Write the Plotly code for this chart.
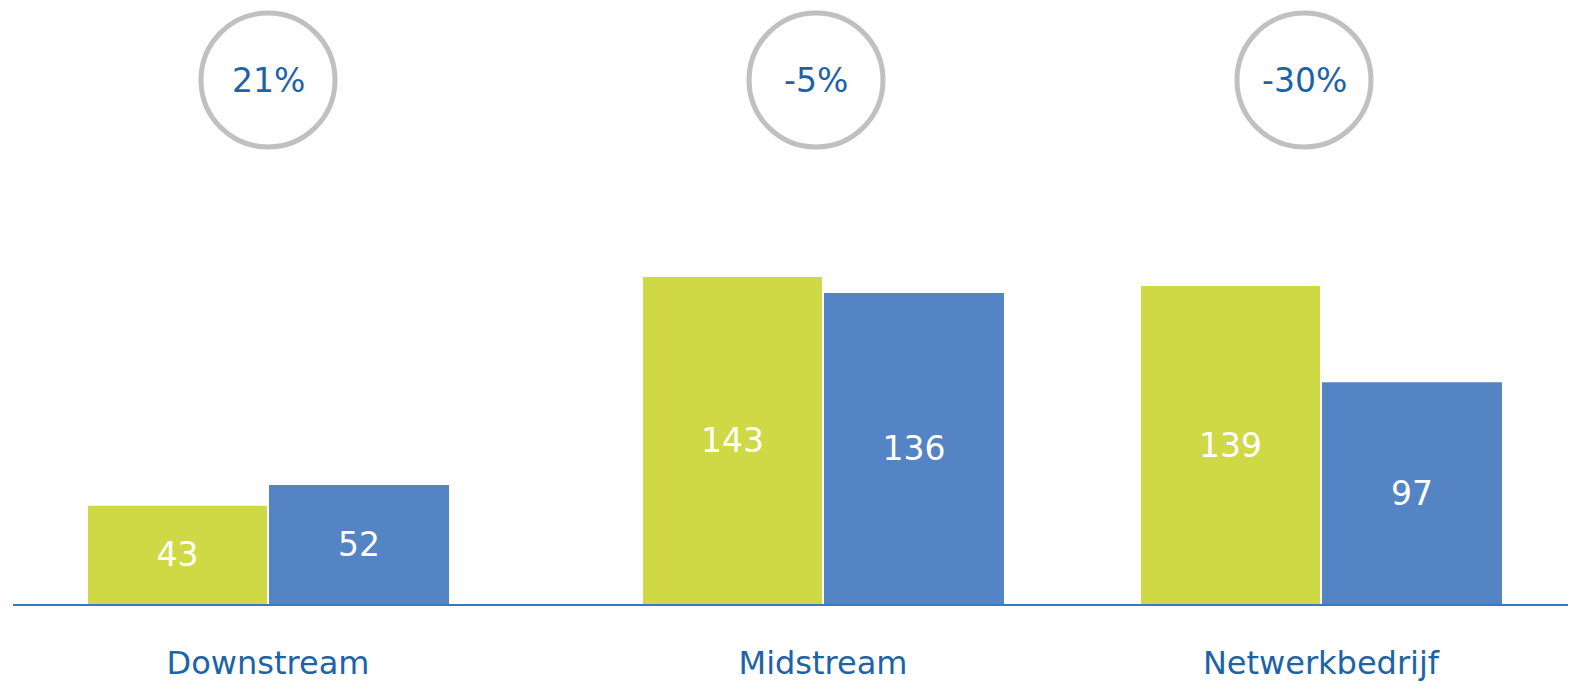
import plotly.graph_objects as go

categories = ["Downstream", "Midstream", "Netwerkbedrijf"]
series_a = [43, 143, 139]
series_b = [52, 136, 97]
changes = ["21%", "-5%", "-30%"]

# layout helpers (axis units ~ pixels of the plot area)
group_centers = [255, 810, 1308]
circle_centers = [255, 803, 1291]

GREEN = "#CFD845"
BLUE = "#5484C3"
TEXT = "#1C63A8"
FONT = "DejaVu Sans"

fig = go.Figure()
fig.add_trace(go.Bar(
    x=group_centers, y=series_a, offset=-180, width=179,
    marker=dict(color=GREEN, line=dict(width=0)),
    text=[str(v) for v in series_a], textposition="inside",
    insidetextanchor="middle",
    textfont=dict(color="white", size=33, family=FONT),
    hoverinfo="skip",
))
fig.add_trace(go.Bar(
    x=group_centers, y=series_b, offset=1, width=180,
    marker=dict(color=BLUE, line=dict(width=0)),
    text=[str(v) for v in series_b], textposition="inside",
    insidetextanchor="middle",
    textfont=dict(color="white", size=33, family=FONT),
    hoverinfo="skip",
))

shapes = []
annotations = []
for cx, label in zip(circle_centers, changes):
    shapes.append(dict(
        type="circle", xref="x", yref="paper",
        xsizemode="pixel", ysizemode="pixel",
        xanchor=cx, yanchor=1 - 80 / 604,
        x0=-67, x1=67, y0=-67, y1=67,
        line=dict(color="#C0C0C0", width=5),
        fillcolor="rgba(0,0,0,0)",
    ))
    annotations.append(dict(
        x=cx, y=1 - 80 / 604, xref="x", yref="paper",
        text=label, showarrow=False,
        font=dict(color=TEXT, size=33, family=FONT),
        xanchor="center", yanchor="middle",
    ))

fig.update_layout(
    autosize=True,
    margin=dict(l=13, r=26, t=0, b=89),
    paper_bgcolor="white", plot_bgcolor="white",
    showlegend=False,
    barmode="overlay",
    shapes=shapes,
    annotations=annotations,
    font=dict(family=FONT),
    xaxis=dict(
        range=[0, 1555], tickvals=group_centers, ticktext=categories,
        showgrid=False, zeroline=False,
        showline=True, linecolor="#3A78C0", linewidth=2,
        ticks="", ticklabelstandoff=30,
        tickfont=dict(color=TEXT, size=32, family=FONT),
        fixedrange=True,
    ),
    yaxis=dict(
        range=[0, 264.1], visible=False, showgrid=False, zeroline=False,
        fixedrange=True,
    ),
)

fig.write_html(
    "out.html",
    config={"displayModeBar": False, "responsive": True},
    default_width="100vw",
    default_height="100vh",
    post_script="document.body.style.margin='0';document.body.style.overflow='hidden';",
)
